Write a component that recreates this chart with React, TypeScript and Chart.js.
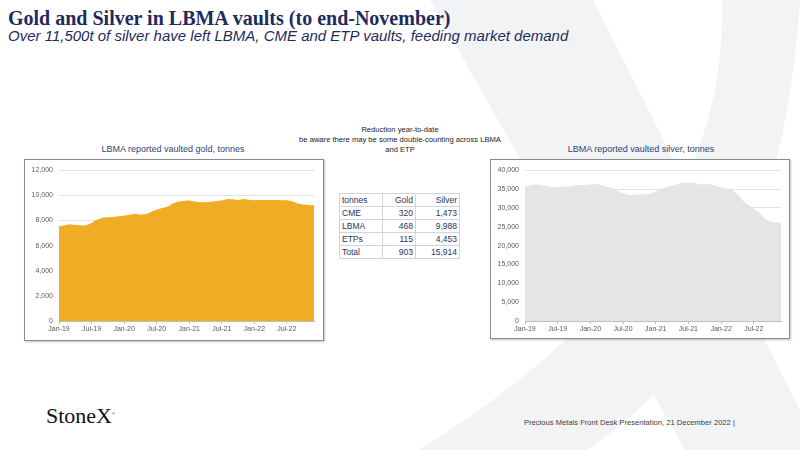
import React, { useEffect, useRef } from "react";
import { Chart, registerables } from "chart.js";

Chart.register(...registerables);

// Monthly categories (x axis)
const months = [
  "Jan-19", "Feb-19", "Mar-19", "Apr-19", "May-19", "Jun-19", "Jul-19", "Aug-19", "Sep-19", "Oct-19", "Nov-19", "Dec-19",
  "Jan-20", "Feb-20", "Mar-20", "Apr-20", "May-20", "Jun-20", "Jul-20", "Aug-20", "Sep-20", "Oct-20", "Nov-20", "Dec-20",
  "Jan-21", "Feb-21", "Mar-21", "Apr-21", "May-21", "Jun-21", "Jul-21", "Aug-21", "Sep-21", "Oct-21", "Nov-21", "Dec-21",
  "Jan-22", "Feb-22", "Mar-22", "Apr-22", "May-22", "Jun-22", "Jul-22", "Aug-22", "Sep-22", "Oct-22", "Nov-22", "Dec-22",
];

// LBMA vaulted gold, tonnes
const goldTonnes = [
  7530, 7620, 7690, 7640, 7610, 7600, 7800, 8050, 8220, 8250, 8270, 8330,
  8370, 8450, 8530, 8480, 8490, 8700, 8850, 9000, 9100, 9370, 9480, 9560,
  9580, 9500, 9440, 9450, 9480, 9540, 9580, 9700, 9680, 9630, 9700, 9650,
  9600, 9620, 9630, 9630, 9620, 9610, 9600, 9520, 9360, 9280, 9240, 9210,
];

// LBMA vaulted silver, tonnes
const silverTonnes = [
  35700, 36000, 36200, 36000, 35800, 35500, 35500, 35600, 35700, 35900, 36100, 36100,
  36200, 36400, 36000, 35600, 35300, 34500, 33900, 33400, 33500, 33500, 33600, 33700,
  34400, 35000, 35500, 35900, 36300, 36700, 36650, 36600, 36300, 36200, 36350, 35900,
  35400, 35100, 34700, 33700, 31900, 30800, 29900, 28700, 27200, 26400, 26200, 26100,
];

// Reduction year-to-date table
const tableSources = ["CME", "LBMA", "ETPs", "Total"];
const tableGold = ["320", "468", "115", "903"];
const tableSilver = ["1,473", "9,988", "4,453", "15,914"];

const NAVY = "#1f2b5e";
const SANS = "'Liberation Sans', Arial, sans-serif";
const SERIF = "'Liberation Serif', 'Times New Roman', serif";
const TICK_FONT = { family: SANS, size: 7 };

interface AreaProps {
  values: number[];
  color: string;
  yMax: number;
  yStep: number;
  width: number;
  height: number;
  padTop: number;
  padRight: number;
  xHeight: number;
}

const AreaChart: React.FC<AreaProps> = ({ values, color, yMax, yStep, width, height, padTop, padRight, xHeight }) => {
  const ref = useRef<HTMLCanvasElement>(null);

  useEffect(() => {
    if (!ref.current) return;
    const chart = new Chart(ref.current, {
      type: "line",
      data: {
        labels: months,
        datasets: [
          {
            data: values,
            backgroundColor: color,
            borderWidth: 0,
            pointRadius: 0,
            fill: "origin",
            tension: 0,
          },
        ],
      },
      options: {
        animation: false,
        responsive: false,
        layout: { padding: { top: padTop, right: padRight, left: 0, bottom: 0 } },
        plugins: { legend: { display: false }, tooltip: { enabled: false } },
        scales: {
          x: {
            offset: false,
            afterFit: (s: any) => { s.height = xHeight; },
            border: { display: true, color: "#bfbfbf" },
            grid: {
              drawOnChartArea: false,
              drawTicks: true,
              tickLength: 3,
              color: (c: any) => (c.index % 6 === 0 ? "#bfbfbf" : "rgba(0,0,0,0)"),
            },
            ticks: {
              autoSkip: false,
              maxRotation: 0,
              padding: 1,
              color: "#595959",
              font: TICK_FONT,
              callback: (_v: any, i: number) => (i % 6 === 0 ? months[i] : ""),
            },
          },
          y: {
            min: 0,
            max: yMax,
            afterFit: (s: any) => { s.width = 34; },
            border: { display: false },
            grid: { color: "#e3e3e3", drawTicks: false },
            ticks: {
              stepSize: yStep,
              padding: 6,
              color: "#595959",
              font: TICK_FONT,
              callback: (v: any) => Number(v).toLocaleString("en-US"),
            },
          },
        },
      },
    });
    return () => chart.destroy();
  }, [values, color, yMax, yStep, padTop, padRight, xHeight]);

  return <canvas ref={ref} width={width} height={height} />;
};

const boxStyle = (left: number, top: number, w: number, h: number): React.CSSProperties => ({
  position: "absolute",
  left,
  top,
  width: w,
  height: h,
  boxSizing: "border-box",
  border: "1px solid #8a8a8a",
  boxShadow: "1px 1px 2px rgba(0,0,0,0.25)",
  background: "#fff",
});

const chartTitle = (cx: number, top: number): React.CSSProperties => ({
  position: "absolute",
  left: cx - 150,
  width: 300,
  top,
  textAlign: "center",
  fontFamily: SANS,
  fontSize: 9,
  color: "#2e3f78",
  whiteSpace: "nowrap",
});

const cell: React.CSSProperties = {
  border: "1px solid #d4d4d4",
  padding: "0 2px",
  height: 12,
  lineHeight: "12px",
};

export default function App() {
  return (
    <div
      style={{
        position: "fixed",
        left: 0,
        top: 0,
        width: 800,
        height: 450,
        overflow: "hidden",
        background: "#fff",
      }}
    >
      {/* watermark X */}
      <svg width={800} height={450} style={{ position: "absolute", left: 0, top: 0 }}>
        <path d="M430,0 L593,0 L820,450 L685,450 Z" fill="#f2f3f5" />
        <path d="M722,0 L800,0 Q780,320 587,450 L418,450 Q730,260 722,0 Z" fill="#f2f3f5" />
      </svg>

      <div
        style={{
          position: "absolute",
          left: 8,
          top: 7,
          fontFamily: SERIF,
          fontWeight: "bold",
          fontSize: 20,
          color: NAVY,
          whiteSpace: "nowrap",
        }}
      >
        Gold and Silver in LBMA vaults (to end-November)
      </div>
      <div
        style={{
          position: "absolute",
          left: 8,
          top: 27,
          fontFamily: SANS,
          fontStyle: "italic",
          fontSize: 15,
          color: NAVY,
          whiteSpace: "nowrap",
        }}
      >
        Over 11,500t of silver have left LBMA, CME and ETP vaults, feeding market demand
      </div>

      {/* note above table */}
      <div
        style={{
          position: "absolute",
          left: 280,
          width: 240,
          top: 125,
          textAlign: "center",
          fontFamily: SANS,
          fontSize: 7.6,
          lineHeight: "10px",
          color: "#222",
        }}
      >
        Reduction year-to-date
        <br />
        be aware there may be some double-counting across LBMA
        <br />
        and ETP
      </div>

      <div style={chartTitle(173, 144)}>LBMA reported vaulted gold, tonnes</div>
      <div style={boxStyle(24, 159, 300, 182)}>
        <AreaChart
          values={goldTonnes}
          color="#efac25"
          yMax={12000}
          yStep={2000}
          width={298}
          height={180}
          padTop={9}
          padRight={9}
          xHeight={19}
        />
      </div>

      <table
        style={{
          position: "absolute",
          left: 339,
          top: 193,
          width: 121,
          borderCollapse: "collapse",
          fontFamily: SANS,
          fontSize: 8.5,
          color: "#1f3464",
        }}
      >
        <tbody>
          <tr>
            <td style={{ ...cell, textAlign: "left" }}>tonnes</td>
            <td style={{ ...cell, textAlign: "right" }}>Gold</td>
            <td style={{ ...cell, textAlign: "right" }}>Silver</td>
          </tr>
          {tableSources.map((s, i) => (
            <tr key={s}>
              <td style={{ ...cell, textAlign: "left" }}>{s}</td>
              <td style={{ ...cell, textAlign: "right" }}>{tableGold[i]}</td>
              <td style={{ ...cell, textAlign: "right" }}>{tableSilver[i]}</td>
            </tr>
          ))}
        </tbody>
      </table>

      <div style={chartTitle(641, 144)}>LBMA reported vaulted silver, tonnes</div>
      <div style={boxStyle(490, 159, 300, 180)}>
        <AreaChart
          values={silverTonnes}
          color="#e6e4e5"
          yMax={40000}
          yStep={5000}
          width={298}
          height={178}
          padTop={8}
          padRight={8}
          xHeight={17}
        />
      </div>

      {/* footer */}
      <div
        style={{
          position: "absolute",
          left: 46,
          top: 405,
          fontFamily: SERIF,
          fontSize: 22,
          lineHeight: "1",
          color: "#111",
        }}
      >
        StoneX<sup style={{ fontSize: 4 }}>®</sup>
      </div>
      <div
        style={{
          position: "absolute",
          left: 524,
          top: 418,
          fontFamily: SANS,
          fontSize: 7.6,
          color: "#404040",
          whiteSpace: "nowrap",
        }}
      >
        Precious Metals Front Desk Presentation, 21 December 2022 |
      </div>
    </div>
  );
}
